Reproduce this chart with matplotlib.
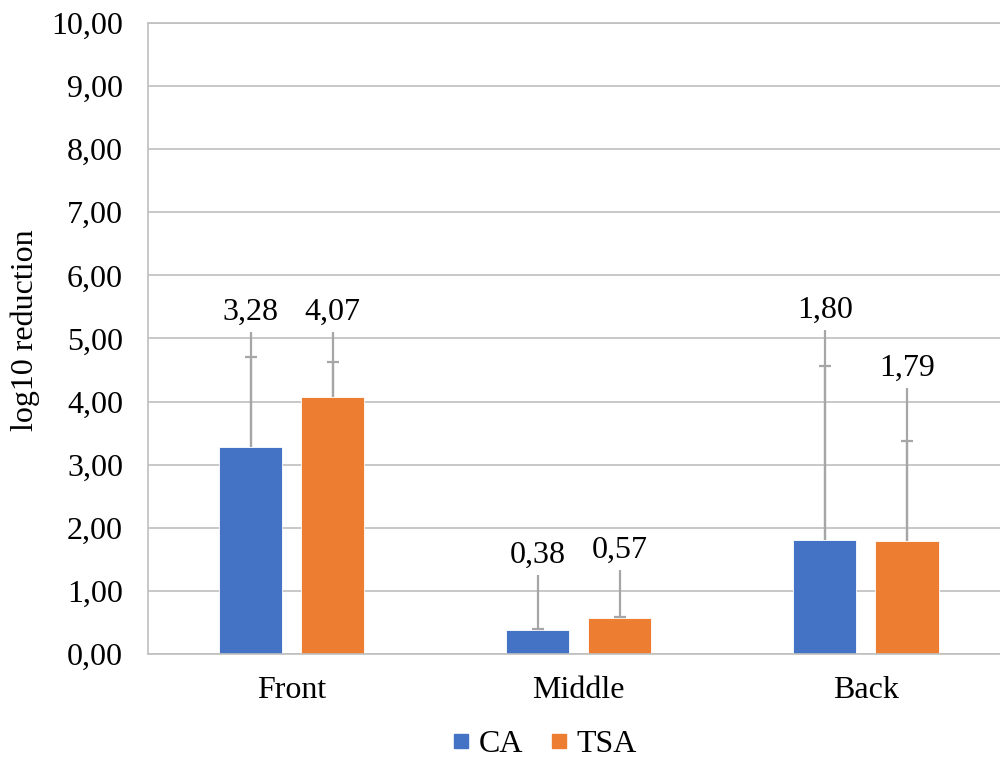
import matplotlib
matplotlib.use("Agg")
import matplotlib.pyplot as plt
from matplotlib.lines import Line2D
import numpy as np

# ---- data ----
categories = ["Front", "Middle", "Back"]
series_names = ["CA", "TSA"]
ca_values = [3.28, 0.38, 1.80]
tsa_values = [4.07, 0.57, 1.79]
ca_err_plus = [1.42, 0.01, 2.77]
tsa_err_plus = [0.56, 0.01, 1.59]
ca_labels = ["3,28", "0,38", "1,80"]
tsa_labels = ["4,07", "0,57", "1,79"]
yticks = [0, 1, 2, 3, 4, 5, 6, 7, 8, 9, 10]

# ---- style / layout (label heights in data units) ----
ca_label_y = [5.42, 1.57, 5.45]
tsa_label_y = [5.42, 1.65, 4.53]
label_gap = 0.32
colors = ["#4472C4", "#ED7D31"]

plt.rcParams["font.family"] = ["Liberation Serif", "DejaVu Serif"]
FS = 23

fig = plt.figure(figsize=(10, 7.6), dpi=100)
ax = fig.add_axes([0.148, 0.1395, 0.8615, 0.8303])

x = np.arange(len(categories))
offset = 0.143
width = 0.22

ax.set_xlim(-0.5, 2.5)
ax.set_ylim(0, 10)
ax.set_yticks(yticks)
ax.set_yticklabels([f"{v:.2f}".replace(".", ",") for v in yticks], fontsize=FS)
ax.set_xticks(x)
ax.set_xticklabels(categories, fontsize=FS)
ax.tick_params(axis="y", length=0, pad=18)
ax.tick_params(axis="x", length=0, pad=16)

ax.grid(axis="y", color="#BFBFBF", lw=1.2, zorder=0)
ax.set_axisbelow(True)
for s in ax.spines.values():
    s.set_color("#BFBFBF")
    s.set_linewidth(1.2)

for vals, errs, labs, ly, col, sgn in [
    (ca_values, ca_err_plus, ca_labels, ca_label_y, colors[0], -1),
    (tsa_values, tsa_err_plus, tsa_labels, tsa_label_y, colors[1], 1),
]:
    xp = x + sgn * offset
    ax.bar(xp, vals, width=width, color=col, edgecolor="white", linewidth=0.6, zorder=2)
    # leader lines
    for xi, v, yl in zip(xp, vals, ly):
        ax.plot([xi, xi], [yl - label_gap, v], color="#A6A6A6", lw=1.6, zorder=3,
                solid_capstyle="butt")
    eb = ax.errorbar(xp, vals, yerr=[np.zeros(len(vals)), errs], fmt="none",
                     ecolor="#A6A6A6", elinewidth=1.6, capsize=4.5, capthick=1.6, zorder=4)
    caps = eb[1]
    if len(caps) == 2:
        caps[0].set_visible(False)
    for cl in caps:
        cl.set_color("#595959")
    for xi, yl, t in zip(xp, ly, labs):
        ax.text(xi, yl, t, ha="center", va="center", fontsize=FS, zorder=5)

fig.text(0.025, 0.565, "log10 reduction", rotation=90, ha="center", va="center",
         fontsize=FS)

handles = [Line2D([], [], marker="s", linestyle="none", markersize=10.5,
                  markerfacecolor=c, markeredgecolor=c) for c in colors]
fig.legend(handles, series_names, loc="center", bbox_to_anchor=(0.541, 0.02),
           ncol=2, frameon=False, fontsize=FS, handletextpad=0.05,
           columnspacing=0.6, handlelength=1.0, borderaxespad=0)

fig.savefig("out.png", dpi=100)
